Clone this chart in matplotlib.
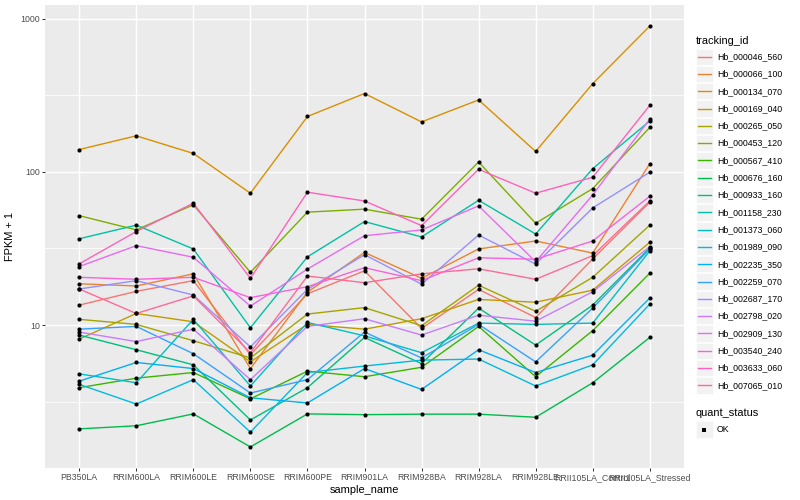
import matplotlib
matplotlib.use("Agg")
import matplotlib.pyplot as plt
import numpy as np
from matplotlib.patches import Rectangle

plt.rcParams["font.family"] = ["Liberation Sans", "DejaVu Sans"]

samples = ["PB350LA", "RRIM600LA", "RRIM600LE", "RRIM600SE", "RRIM600PE", "RRIM901LA",
           "RRIM928BA", "RRIM928LA", "RRIM928LE", "RRII105LA_Control", "RRII105LA_Stressed"]

tracking_ids = ["Hb_000046_560", "Hb_000066_100", "Hb_000134_070", "Hb_000169_040",
                "Hb_000265_050", "Hb_000453_120", "Hb_000567_410", "Hb_000676_160",
                "Hb_000933_160", "Hb_001158_230", "Hb_001373_060", "Hb_001989_090",
                "Hb_002235_350", "Hb_002259_070", "Hb_002687_170", "Hb_002798_020",
                "Hb_002909_130", "Hb_003540_240", "Hb_003633_060", "Hb_007065_010"]

# FPKM + 1, one list per gene, in sample order
hb_000046_560 = [13.5, 16.6, 19.5, 6.4, 16.0, 22.6, 9.5, 17.1, 11.2, 27.0, 63.4]
hb_000066_100 = [18.6, 18.0, 21.6, 5.2, 16.4, 29.8, 20.2, 31.4, 35.4, 29.5, 113]
hb_000134_070 = [140, 172, 132, 72.6, 230, 325, 212, 295, 136, 377, 896]
hb_000169_040 = [8.1, 11.9, 10.5, 5.75, 10.1, 9.4, 11.0, 14.7, 14.1, 16.9, 34.7]
hb_000265_050 = [10.9, 10.1, 7.9, 6.1, 11.8, 13.0, 9.9, 18.2, 12.3, 20.5, 44.9]
hb_000453_120 = [51.8, 41.8, 61.0, 22.1, 54.6, 57.1, 49.1, 116, 46.2, 77.8, 195]
hb_000567_410 = [3.9, 4.5, 4.9, 3.3, 5.0, 4.6, 5.3, 9.8, 4.6, 9.2, 21.8]
hb_000676_160 = [2.1, 2.2, 2.63, 1.6, 2.63, 2.6, 2.62, 2.62, 2.5, 4.2, 8.3]
hb_000933_160 = [8.6, 6.9, 5.5, 2.4, 3.9, 8.3, 5.6, 12.9, 7.4, 13.5, 31.9]
hb_001158_230 = [36.6, 44.9, 31.4, 9.6, 27.9, 47.4, 37.6, 65.3, 39.3, 105, 215]
hb_001373_060 = [4.8, 4.2, 10.9, 4.0, 10.4, 8.5, 6.6, 10.3, 10.1, 10.3, 30.5]
hb_001989_090 = [4.1, 3.05, 4.4, 2.0, 4.9, 5.4, 5.9, 6.0, 4.0, 5.5, 13.7]
hb_002235_350 = [4.3, 5.7, 5.2, 3.35, 3.1, 5.2, 3.8, 6.9, 4.9, 6.36, 15.0]
hb_002259_070 = [9.4, 9.8, 6.5, 3.6, 4.4, 9.0, 6.1, 10.1, 5.75, 12.9, 31.4]
hb_002687_170 = [17.2, 19.5, 15.7, 7.2, 17.1, 28.8, 18.5, 38.7, 25.0, 58.2, 99.5]
hb_002798_020 = [9.0, 7.8, 9.4, 4.4, 9.8, 11.0, 8.6, 11.6, 10.6, 16.5, 32.5]
hb_002909_130 = [24.1, 33.0, 27.7, 13.3, 23.2, 38.3, 41.8, 60.0, 25.9, 70.7, 221]
hb_003540_240 = [20.5, 19.9, 20.5, 15.1, 17.8, 23.7, 19.5, 27.5, 26.9, 35.4, 69.3]
hb_003633_060 = [25.1, 40.8, 62.5, 20.2, 73.7, 64.6, 44.6, 104, 72.6, 92.3, 272]
hb_007065_010 = [17.2, 11.9, 15.5, 6.6, 20.9, 18.9, 21.6, 23.3, 19.9, 28.4, 64.6]

series = [hb_000046_560, hb_000066_100, hb_000134_070, hb_000169_040, hb_000265_050,
          hb_000453_120, hb_000567_410, hb_000676_160, hb_000933_160, hb_001158_230,
          hb_001373_060, hb_001989_090, hb_002235_350, hb_002259_070, hb_002687_170,
          hb_002798_020, hb_002909_130, hb_003540_240, hb_003633_060, hb_007065_010]


def hcl_color(h, c=100.0, l=65.0):
    # polar CIE-LUV -> sRGB, same as R's hcl()
    xn, yn, zn = 95.047, 100.0, 108.883
    den = xn + 15 * yn + 3 * zn
    un, vn = 4 * xn / den, 9 * yn / den
    hr = np.deg2rad(h)
    u, v = c * np.cos(hr), c * np.sin(hr)
    y = yn * ((l + 16) / 116) ** 3
    up = u / (13 * l) + un
    vp = v / (13 * l) + vn
    x = 9 * y * up / (4 * vp)
    z = y * (12 - 3 * up - 20 * vp) / (4 * vp)
    x, y, z = x / 100, y / 100, z / 100
    rgb = np.array([
        3.2404542 * x - 1.5371385 * y - 0.4985314 * z,
        -0.9692660 * x + 1.8760108 * y + 0.0415560 * z,
        0.0556434 * x - 0.2040259 * y + 1.0572252 * z,
    ])
    rgb = np.where(rgb <= 0.0031308, 12.92 * rgb, 1.055 * np.abs(rgb) ** (1 / 2.4) - 0.055)
    return tuple(np.clip(rgb, 0, 1))


n = len(tracking_ids)
hues = np.linspace(15, 375, n + 1)[:-1]
colors = [hcl_color(h) for h in hues]

W, H = 800, 500
fig = plt.figure(figsize=(8, 5), dpi=100)
fig.patch.set_facecolor("white")

px_l, px_r, px_t, px_b = 45, 684, 5, 468
ax = fig.add_axes([px_l / W, 1 - px_b / H, (px_r - px_l) / W, (px_b - px_t) / H])
ax.set_facecolor("#EBEBEB")
for s in ax.spines.values():
    s.set_visible(False)

x = np.arange(1, len(samples) + 1)
for vals, col in zip(series, colors):
    ax.plot(x, vals, color=col, lw=1.0, zorder=3, solid_capstyle="butt")
for vals in series:
    ax.plot(x, vals, "o", color="black", ms=3, zorder=4, mew=0)

ax.set_yscale("log")
all_vals = np.log10(np.concatenate([np.array(v, float) for v in series]))
lo, hi = all_vals.min(), all_vals.max()
pad = 0.05 * (hi - lo)
ax.set_ylim(10 ** (lo - pad), 10 ** (hi + pad))
ax.set_xlim(0.4, len(samples) + 0.6)

major = [10, 100, 1000]
minor = [10 ** 0.5, 10 ** 1.5, 10 ** 2.5]
ax.set_yticks(major)
ax.set_yticklabels([str(m) for m in major])
ax.set_yticks([], minor=True)
for m in minor:
    ax.axhline(m, color="white", lw=0.55, zorder=1)
for m in major:
    ax.axhline(m, color="white", lw=1.05, zorder=1)
ax.set_xticks(x)
ax.set_xticklabels(samples)
for xi in x:
    ax.axvline(xi, color="white", lw=1.05, zorder=1)

ax.tick_params(axis="both", which="major", length=2.0, width=0.75, color="#333333",
               labelsize=6.35, labelcolor="#4D4D4D", pad=1.8)
ax.tick_params(axis="both", which="minor", length=0)
ax.set_xlabel("sample_name", fontsize=7.9, labelpad=2)
ax.set_ylabel("FPKM + 1", fontsize=7.9, labelpad=4)

# legend, drawn in pixel space like ggplot's guide boxes
lg = fig.add_axes([0, 0, 1, 1], facecolor="none")
lg.set_xlim(0, W)
lg.set_ylim(H, 0)
lg.axis("off")
key = 17.3
x0 = 696
y0 = 48
lg.text(x0, 40.5, "tracking_id", fontsize=7.9, va="center", ha="left")
for i, (name, col) in enumerate(zip(tracking_ids, colors)):
    yc = y0 + key * i + key / 2
    lg.add_patch(Rectangle((x0, yc - key / 2 + 0.5), key - 0.5, key - 1,
                           facecolor="#F2F2F2", edgecolor="white", lw=0.5))
    lg.plot([x0 + 1.7, x0 + key - 2.2], [yc, yc], color=col, lw=1.0)
    lg.text(x0 + key + 3.5, yc, name, fontsize=6.35, va="center", ha="left")

lg.text(x0, 412.5, "quant_status", fontsize=7.9, va="center", ha="left")
yc = 429.5
lg.add_patch(Rectangle((x0, yc - key / 2 + 0.5), key - 0.5, key - 1,
                       facecolor="#F2F2F2", edgecolor="white", lw=0.5))
lg.plot([x0 + key / 2 - 0.3], [yc], "s", color="black", ms=2.6, mew=0)
lg.text(x0 + key + 3.5, yc, "OK", fontsize=6.35, va="center", ha="left")

fig.savefig("out.png", dpi=100)
plt.close(fig)
